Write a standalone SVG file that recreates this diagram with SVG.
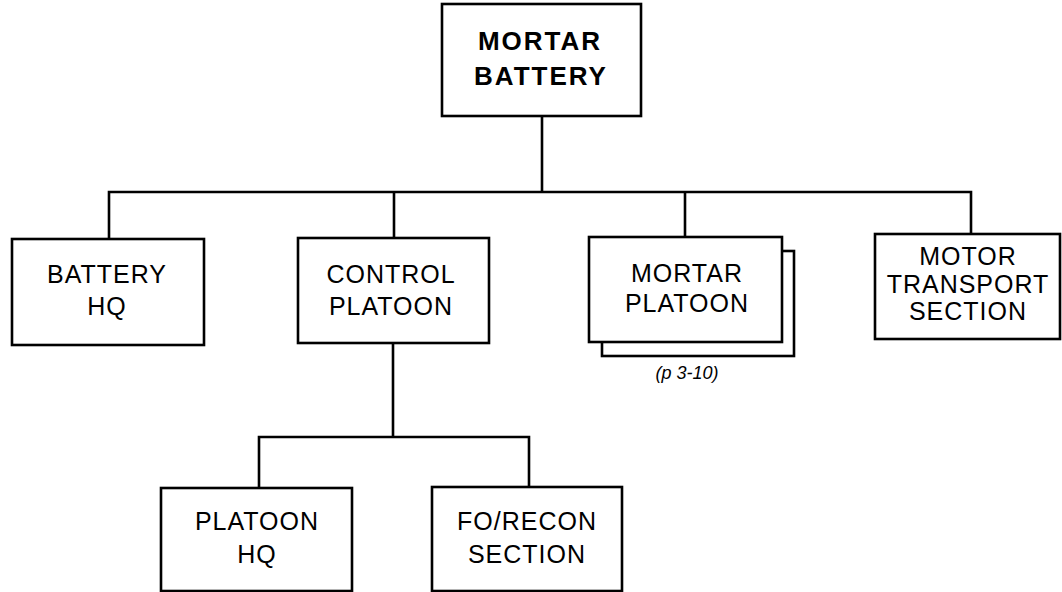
<svg xmlns="http://www.w3.org/2000/svg" width="1062" height="592" viewBox="0 0 1062 592">
<style>
.box{fill:#fff;stroke:#000;stroke-width:2.6}
.ln{fill:none;stroke:#000;stroke-width:2.6}
.t{font-family:"Liberation Sans",Arial,sans-serif;font-size:25px;letter-spacing:1px;text-anchor:middle;fill:#000}
.b{font-weight:bold;font-size:26px;letter-spacing:2px}
.n{font-family:"Liberation Sans",Arial,sans-serif;font-size:18px;font-style:italic;text-anchor:middle;fill:#000}
</style>
<rect width="1062" height="592" fill="#fff"/>
<g id="connectors">
<path class="ln" d="M542 116V192M109 239V192H971V234M394 192V239M685 192V237"/>
<path class="ln" d="M393 343V437M259 488V437H529V487"/>
</g>
<g id="mortar-battery">
<rect class="box" x="442" y="4" width="199" height="112"/>
<text class="t b" x="540" y="50">MORTAR</text>
<text class="t b" x="541" y="85">BATTERY</text>
</g>
<g id="battery-hq">
<rect class="box" x="12" y="239" width="192" height="106"/>
<text class="t" x="107" y="283">BATTERY</text>
<text class="t" x="107" y="315">HQ</text>
</g>
<g id="control-platoon">
<rect class="box" x="298" y="238" width="191" height="105"/>
<text class="t" x="391" y="283">CONTROL</text>
<text class="t" x="391" y="315">PLATOON</text>
</g>
<g id="mortar-platoon">
<rect class="box" x="602" y="251" width="192" height="105"/>
<rect class="box" x="589" y="237" width="193" height="105"/>
<text class="t" x="687" y="282">MORTAR</text>
<text class="t" x="687" y="312">PLATOON</text>
<text class="n" x="687" y="379">(p 3-10)</text>
</g>
<g id="motor-transport-section">
<rect class="box" x="875" y="234" width="185" height="105"/>
<text class="t" x="968" y="265">MOTOR</text>
<text class="t" x="968" y="293">TRANSPORT</text>
<text class="t" x="968" y="320">SECTION</text>
</g>
<g id="platoon-hq">
<rect class="box" x="161" y="488" width="191" height="103"/>
<text class="t" x="257" y="530">PLATOON</text>
<text class="t" x="257" y="563">HQ</text>
</g>
<g id="fo-recon-section">
<rect class="box" x="432" y="487" width="190" height="104"/>
<text class="t" x="527" y="530">FO/RECON</text>
<text class="t" x="527" y="563">SECTION</text>
</g>
</svg>
